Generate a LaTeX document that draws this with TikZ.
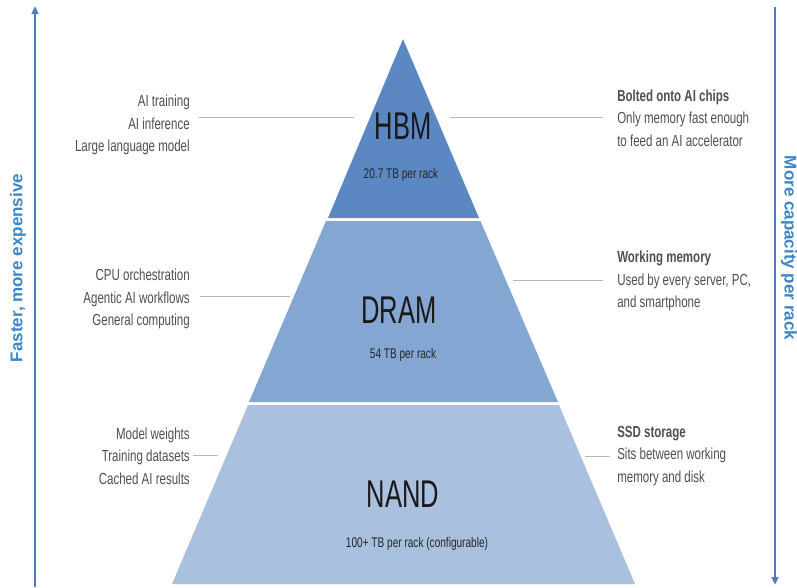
\documentclass[tikz,border=0pt]{standalone}
\usepackage{fontspec}
\setmainfont{Liberation Sans}[FakeStretch=0.72]
\newfontfamily\titlefont{Liberation Sans}[FakeStretch=0.66]
\newfontfamily\vlabelfont{Liberation Sans}
\usetikzlibrary{arrows.meta}
\definecolor{hbmc}{HTML}{5B88C2}
\definecolor{dramc}{HTML}{84A6D3}
\definecolor{nandc}{HTML}{A9C0DF}
\definecolor{arrc}{HTML}{4F7DBB}
\definecolor{vtxt}{HTML}{3A86C8}
\definecolor{sidetxt}{HTML}{4F4F4F}
\definecolor{leadc}{HTML}{B5B5B5}
\tikzset{
  layer/.style={draw=none},
  title/.style={inner sep=0pt, text=black!90, font=\titlefont\fontsize{29}{32}\selectfont},
  sub/.style={inner sep=0pt, text=black!85, font=\fontsize{10.5}{12}\selectfont},
  sidel/.style={inner sep=0pt, anchor=east, align=right, text=sidetxt, font=\fontsize{12}{16.9}\selectfont},
  sider/.style={inner sep=0pt, anchor=west, align=left, text=sidetxt, font=\fontsize{12}{16.9}\selectfont},
  lead/.style={draw=leadc, line width=0.75pt},
  axis/.style={draw=arrc, line width=1.5pt, -{Triangle[length=6pt,width=5pt]}},
  vlabel/.style={inner sep=0pt, text=vtxt, font=\vlabelfont\bfseries\fontsize{12.75}{14}\selectfont}
}
\begin{document}
\begin{tikzpicture}[x=0.75pt,y=-0.75pt]
\path[fill=white,use as bounding box] (0,0) rectangle (797,587);
% pyramid layers
\fill[hbmc]  (403,39) -- (479,218) -- (328,218) -- cycle;
\fill[dramc] (326,221) -- (480.5,221) -- (558,402) -- (249,402) -- cycle;
\fill[nandc] (248,405) -- (559,405) -- (635,584) -- (172,584) -- cycle;
% titles
\node[title] (hbm) at (403,126) {HBM};
\node[sub] (hbms) at (401,175) {20.7 TB per rack};
\node[title] (dram) at (399,310) {DRAM};
\node[sub] (drams) at (403,355) {54 TB per rack};
\node[title] (nand) at (403,494) {NAND};
\node[sub] (nands) at (417,544) {100+ TB per rack (configurable)};
% left texts
\node[sidel] (lh) at (190,125) {AI training\\AI inference\\Large language model};
\node[sidel] (ld) at (190,299) {CPU orchestration\\Agentic AI workflows\\General computing};
\node[sidel] (ln) at (190,456) {Model weights\\Training datasets\\Cached AI results};
% right texts
\node[sider] (rh) at (617,118) {\textbf{Bolted onto AI chips}\\Only memory fast enough\\to feed an AI accelerator};
\node[sider] (rd) at (617,281) {\textbf{Working memory}\\Used by every server, PC,\\and smartphone};
\node[sider] (rn) at (617,456) {\textbf{SSD storage}\\Sits between working\\memory and disk};
% leader lines
\coordinate (lh1) at (199,117); \coordinate (lh2) at (354,117);
\coordinate (rh1) at (450,117); \coordinate (rh2) at (603,117);
\coordinate (ld1) at (200,296); \coordinate (ld2) at (290,296);
\coordinate (rd1) at (513,280); \coordinate (rd2) at (603,280);
\coordinate (ln1) at (193,455); \coordinate (ln2) at (218,455);
\coordinate (rn1) at (585,456); \coordinate (rn2) at (610,456);
\draw[lead] (lh1) -- (lh2);
\draw[lead] (rh1) -- (rh2);
\draw[lead] (ld1) -- (ld2);
\draw[lead] (rd1) -- (rd2);
\draw[lead] (ln1) -- (ln2);
\draw[lead] (rn1) -- (rn2);
% axes
\coordinate (la1) at (35,587); \coordinate (la2) at (35,6);
\coordinate (ra1) at (775,7); \coordinate (ra2) at (775,585);
\draw[axis] (la1) -- (la2);
\draw[axis] (ra1) -- (ra2);
\node[vlabel, rotate=90] (lv) at (18,268) {Faster, more expensive};
\node[vlabel, rotate=-90] (rv) at (789,248) {More capacity per rack};
\end{tikzpicture}
\end{document}
